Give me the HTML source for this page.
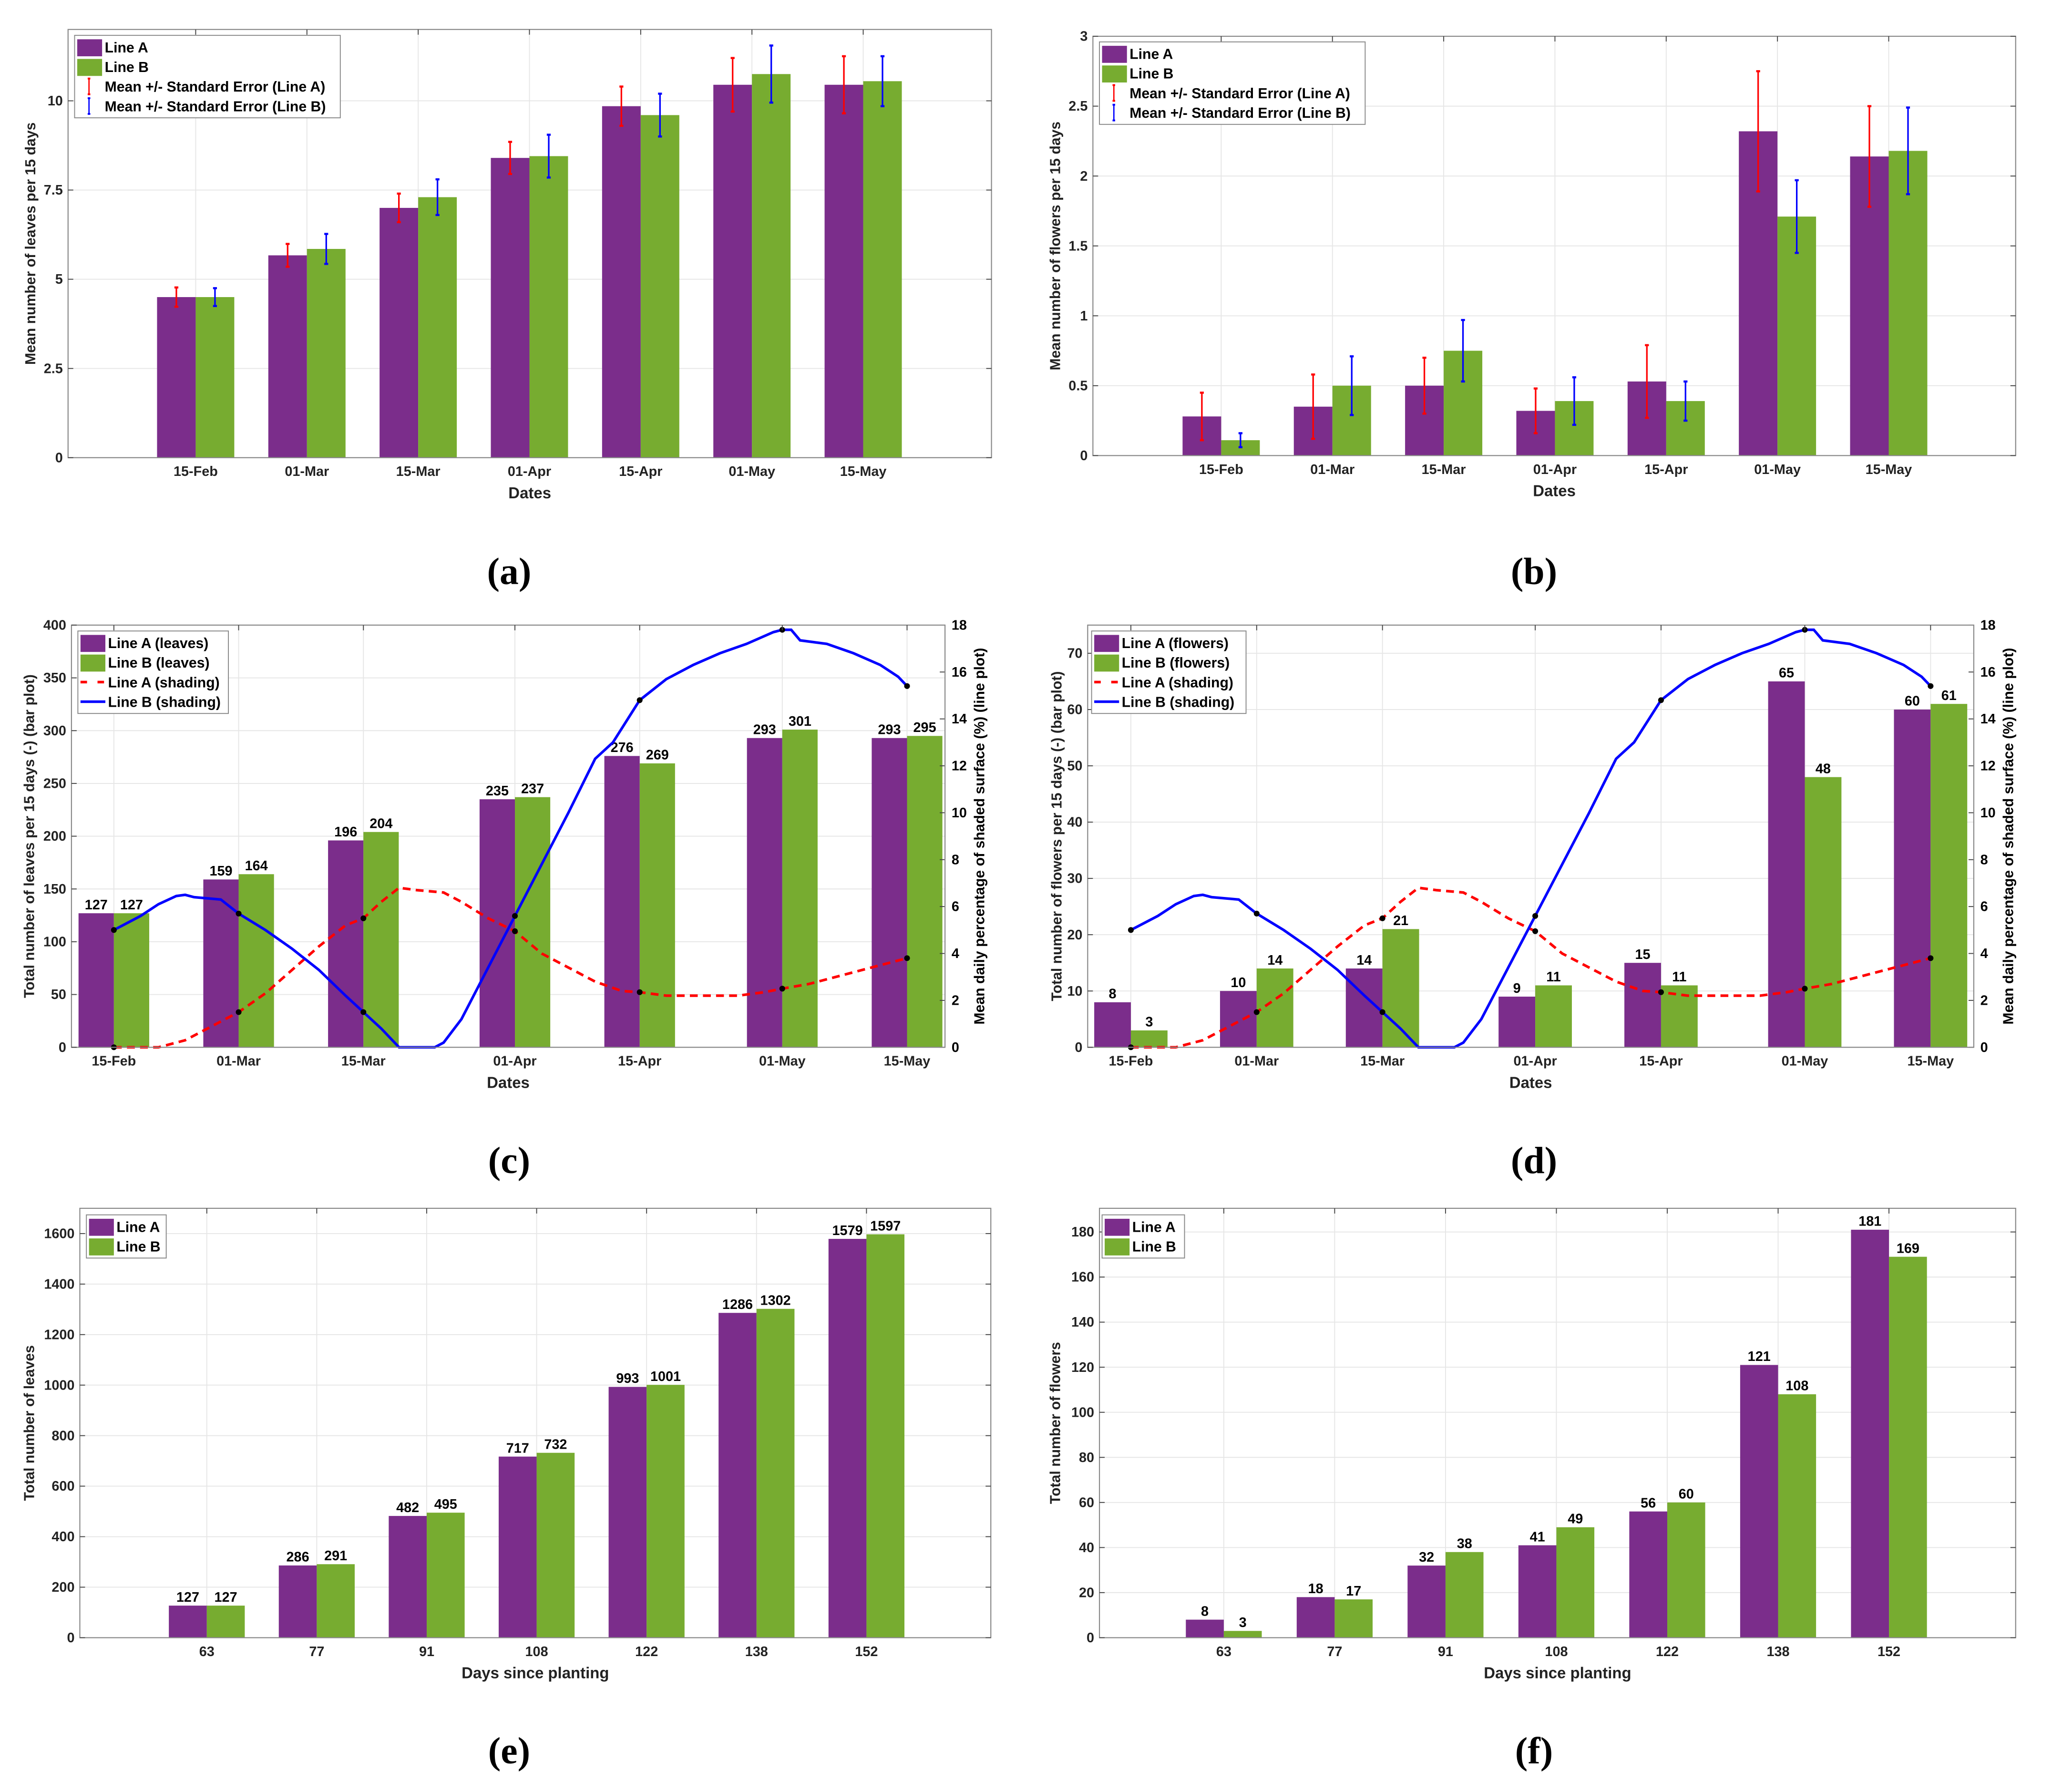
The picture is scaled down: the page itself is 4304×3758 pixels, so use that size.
<!DOCTYPE html>
<html><head><meta charset="utf-8"><style>
html,body{margin:0;padding:0;background:#fff;}
svg{display:block;}
text{font-family:"Liberation Sans",sans-serif;}
</style></head><body>
<svg id="fig" xmlns="http://www.w3.org/2000/svg" width="4304" height="3758" viewBox="0 0 1556 1358.6"><g id="root" transform="scale(0.9925)"></g></svg>
<script>
// ---------- data ----------
const dateCats = ["15-Feb","01-Mar","15-Mar","01-Apr","15-Apr","01-May","15-May"];
const dayCats = ["63","77","91","108","122","138","152"];
const dateDays = [0,14,28,45,59,75,89];
// (a)
const meanLeavesA = [4.5,5.67,7.0,8.4,9.85,10.45,10.45];
const meanLeavesB = [4.5,5.85,7.3,8.45,9.6,10.75,10.55];
const seLeavesA = [0.27,0.32,0.4,0.45,0.55,0.75,0.8];
const seLeavesB = [0.25,0.42,0.5,0.6,0.6,0.8,0.7];
const ticksA = ["0","2.5","5","7.5","10"];
// (b)
const meanFlowA = [0.28,0.35,0.5,0.32,0.53,2.32,2.14];
const meanFlowB = [0.11,0.5,0.75,0.39,0.39,1.71,2.18];
const seFlowA = [0.17,0.23,0.2,0.16,0.26,0.43,0.36];
const seFlowB = [0.05,0.21,0.22,0.17,0.14,0.26,0.31];
const ticksB = ["0","0.5","1","1.5","2","2.5","3"];
// (c)
const leaves15A = [127,159,196,235,276,293,293];
const leaves15B = [127,164,204,237,269,301,295];
// (d)
const flowers15A = [8,10,14,9,15,65,60];
const flowers15B = [3,14,21,11,11,48,61];
// shading lines (day, %)
const shadeBDays = [0,3,5,7,8,9,12,14,17,20,23,26,28,30,32,34,36,37,39,42,45,48,51,54,56,59,62,65,68,71,74,75,76,77,80,83,86,88,89];
const shadeBVals = [5.0,5.6,6.1,6.45,6.5,6.4,6.3,5.7,5.0,4.2,3.3,2.2,1.5,0.8,0.0,0,0,0.2,1.2,3.4,5.6,7.8,10.0,12.3,13.0,14.8,15.7,16.3,16.8,17.2,17.7,17.8,17.8,17.35,17.2,16.8,16.3,15.8,15.4];
const shadeADays = [0,5,8,11,14,17,20,23,26,28,30,32,34,37,39,42,45,48,51,54,57,59,62,66,70,73,75,78,82,86,89];
const shadeAVals = [0,0,0.3,0.9,1.5,2.3,3.3,4.3,5.2,5.5,6.2,6.8,6.7,6.6,6.2,5.5,4.95,4.0,3.4,2.8,2.4,2.35,2.2,2.2,2.2,2.35,2.5,2.7,3.1,3.5,3.8];
const shadeAMarks = [0,1.5,5.5,4.95,2.35,2.5,3.8];
const shadeBMarks = [5.0,5.7,1.5,5.6,14.8,17.8,15.4];
// (e)
const totLeavesA = [127,286,482,717,993,1286,1579];
const totLeavesB = [127,291,495,732,1001,1302,1597];
// (f)
const totFlowA = [8,18,32,41,56,121,181];
const totFlowB = [3,17,38,49,60,108,169];

const PURPLE="#7b2d8b", GREEN="#77ac30";
const svg=document.getElementById('root');
const NS="http://www.w3.org/2000/svg";
function mk(tag,attrs,parent){const e=document.createElementNS(NS,tag);for(const k in attrs)e.setAttribute(k,attrs[k]);(parent||svg).appendChild(e);return e;}
function txt(s,x,y,attrs,parent){const t=mk('text',Object.assign({x:x,y:y},attrs),parent);t.textContent=s;return t;}

function panel(name,P){
  const g=mk('g',{});
  
  
  const {L,R,T,B,ymax}=P;
  const yv=v=>B-(v/ymax)*(B-T);
  P.ticks.forEach(tv=>{const y=yv(tv);
    const gl=mk('line',{x1:L,x2:R,y1:y,y2:y,stroke:'#e6e6e6','stroke-width':0.7},g);
    
  });
  P.xs.forEach(x=>{const gl=mk('line',{x1:x,x2:x,y1:T,y2:B,stroke:'#e6e6e6','stroke-width':0.7},g);
    });
  const bw=P.bw;
  P.cats.forEach((c,i)=>{
    const x=P.xs[i];
    const ba=mk('rect',{x:x-bw,y:yv(P.a[i]),width:bw,height:B-yv(P.a[i]),fill:PURPLE},g);
    
    const bb=mk('rect',{x:x,y:yv(P.b[i]),width:bw,height:B-yv(P.b[i]),fill:GREEN},g);
    
    if(P.labels){
      const la=txt(String(P.a[i]),x-bw/2,yv(P.a[i])-3,{'font-size':10.5,'font-weight':'bold','text-anchor':'middle'},g);
      
      const lb=txt(String(P.b[i]),x+bw/2,yv(P.b[i])-3,{'font-size':10.5,'font-weight':'bold','text-anchor':'middle'},g);
      
    }
    if(P.ea){
      [[x-bw/2,P.a[i],P.ea[i],'#ff0000'],[x+bw/2,P.b[i],P.eb[i],'#0000ff']].forEach(([ex,m,e,col])=>{
        const eg=mk('g',{stroke:col,'stroke-width':1.2},g);
        
        mk('line',{x1:ex,x2:ex,y1:yv(m-e),y2:yv(m+e)},eg);
        mk('line',{x1:ex-1.5,x2:ex+1.5,y1:yv(m-e),y2:yv(m-e),'stroke-width':1.6},eg);
        mk('line',{x1:ex-1.5,x2:ex+1.5,y1:yv(m+e),y2:yv(m+e),'stroke-width':1.6},eg);
      });
    }
  });
  if(P.lines){
    const dx=d=>P.xs[0]+d*(P.xs[6]-P.xs[0])/89;
    const ry=v=>B-(v/18)*(B-T);
    const pa=shadeADays.map((d,i)=>dx(d)+','+ry(shadeAVals[i])).join(' ');
    const l1=mk('polyline',{points:pa,fill:'none',stroke:'#ff0000','stroke-width':2,'stroke-dasharray':'6,4'},g);
    
    const pb=shadeBDays.map((d,i)=>dx(d)+','+ry(shadeBVals[i])).join(' ');
    const l2=mk('polyline',{points:pb,fill:'none',stroke:'#0000ff','stroke-width':2},g);
    
    dateDays.forEach((d,i)=>{
      const m1=mk('circle',{cx:dx(d),cy:ry(shadeAMarks[i]),r:2.2,fill:'#000'},g);
      
      const m2=mk('circle',{cx:dx(d),cy:ry(shadeBMarks[i]),r:2.2,fill:'#000'},g);
      
    });
    for(let v=0;v<=18;v+=2){const y=ry(v);
      mk('line',{x1:R-4,x2:R,y1:y,y2:y,stroke:'#444','stroke-width':0.7},g);
      const t=txt(String(v),R+5,y+3.5,{'font-size':10.5,'font-weight':'bold'},g);
      }
    const rt=txt('Mean daily percentage of shaded surface (%) (line plot)',0,0,{'font-size':11,'font-weight':'bold','text-anchor':'middle',transform:`translate(${R+30},${(T+B)/2}) rotate(-90)`},g);
    
  }
  const bx=mk('rect',{x:L,y:T,width:R-L,height:B-T,fill:'none',stroke:'#888','stroke-width':0.8},g);
  
  P.ticks.forEach((tv,i)=>{const y=yv(tv);
    mk('line',{x1:L,x2:L+4,y1:y,y2:y,stroke:'#444','stroke-width':0.7},g);
    if(!P.lines) mk('line',{x1:R-4,x2:R,y1:y,y2:y,stroke:'#444','stroke-width':0.7},g);
    const t=txt(P.tickLabels[i],L-4,y+3.5,{'font-size':10.5,'font-weight':'bold','text-anchor':'end',fill:'#222'},g);
    });
  P.xs.forEach((x,i)=>{
    mk('line',{x1:x,x2:x,y1:T,y2:T+4,stroke:'#444','stroke-width':0.7},g);
    const t=txt(P.cats[i],x,B+14,{'font-size':10.5,'font-weight':'bold','text-anchor':'middle',fill:'#222'},g);
    });
  const xt=txt(P.xtitle,(L+R)/2,B+31,{'font-size':12,'font-weight':'bold','text-anchor':'middle',fill:'#222'},g);
  
  const yt=txt(P.ytitle,0,0,{'font-size':11,'font-weight':'bold','text-anchor':'middle',fill:'#222',transform:`translate(${P.ytx},${(T+B)/2}) rotate(-90)`},g);
  
  const lg=mk('g',{},g);
  
  const [lx,ly,lw]=P.leg;
  const lh=P.legItems.length*15+3;
  mk('rect',{x:lx,y:ly,width:lw,height:lh,fill:'#fff',stroke:'#888','stroke-width':0.7},lg);
  P.legItems.forEach((it,i)=>{
    const cy=ly+9+i*15;
    const e=mk('g',{},lg);
    
    if(it[1]==='barA') mk('rect',{x:lx+2,y:cy-6,width:19,height:13,fill:PURPLE},e);
    if(it[1]==='barB') mk('rect',{x:lx+2,y:cy-6,width:19,height:13,fill:GREEN},e);
    if(it[1]==='errA'||it[1]==='errB'){const c=it[1]==='errA'?'#f00':'#00f';
      mk('line',{x1:lx+11,x2:lx+11,y1:cy-6,y2:cy+6,stroke:c,'stroke-width':1},e);
      mk('line',{x1:lx+10,x2:lx+12,y1:cy-6,y2:cy-6,stroke:c,'stroke-width':1.4},e);
      mk('line',{x1:lx+10,x2:lx+12,y1:cy+6,y2:cy+6,stroke:c,'stroke-width':1.4},e);}
    if(it[1]==='dash') mk('line',{x1:lx+2,x2:lx+21,y1:cy,y2:cy,stroke:'#f00','stroke-width':2,'stroke-dasharray':'5,8'},e);
    if(it[1]==='solid') mk('line',{x1:lx+2,x2:lx+21,y1:cy,y2:cy,stroke:'#00f','stroke-width':2},e);
    txt(it[0],lx+23,cy+4,{'font-size':11,'font-weight':'bold'},e);
  });
}
const xsA=[0,1,2,3,4,5,6].map(i=>149.5+i*85);
const xsB=[0,1,2,3,4,5,6].map(i=>933+i*85);
const legErr=[['Line A','barA'],['Line B','barB'],['Mean +/- Standard Error (Line A)','errA'],['Mean +/- Standard Error (Line B)','errB']];
panel('panel-a-mean-leaves',{L:52,R:757.5,T:22.5,B:349.6,ymax:12,ticks:[0,2.5,5,7.5,10],tickLabels:ticksA,xs:xsA,cats:dateCats,a:meanLeavesA,b:meanLeavesB,ea:seLeavesA,eb:seLeavesB,bw:29.5,xtitle:'Dates',ytitle:'Mean number of leaves per 15 days',ytx:27,leg:[57,27,203],legItems:legErr});
panel('panel-b-mean-flowers',{L:835,R:1540,T:27.7,B:348,ymax:3,ticks:[0,0.5,1,1.5,2,2.5,3],tickLabels:ticksB,xs:xsB,cats:dateCats,a:meanFlowA,b:meanFlowB,ea:seFlowA,eb:seFlowB,bw:29.5,xtitle:'Dates',ytitle:'Mean number of flowers per 15 days',ytx:810,leg:[840,32,203],legItems:legErr});
const xsC=dateDays.map(d=>87+d*(693-87)/89);
panel('panel-c-leaves-shading',{L:54.6,R:722,T:477.5,B:800,ymax:400,ticks:[0,50,100,150,200,250,300,350,400],tickLabels:["0","50","100","150","200","250","300","350","400"],xs:xsC,cats:dateCats,a:leaves15A,b:leaves15B,bw:27,labels:true,lines:true,xtitle:'Dates',ytitle:'Total number of leaves per 15 days (-) (bar plot)',ytx:26,leg:[59.5,482,115],legItems:[['Line A (leaves)','barA'],['Line B (leaves)','barB'],['Line A (shading)','dash'],['Line B (shading)','solid']]});
const xsD=dateDays.map(d=>864+d*(1475-864)/89);
panel('panel-d-flowers-shading',{L:831,R:1508,T:477.5,B:800,ymax:75,ticks:[0,10,20,30,40,50,60,70],tickLabels:["0","10","20","30","40","50","60","70"],xs:xsD,cats:dateCats,a:flowers15A,b:flowers15B,bw:28,labels:true,lines:true,xtitle:'Dates',ytitle:'Total number of flowers per 15 days (-) (bar plot)',ytx:811,leg:[834,482,118],legItems:[['Line A (flowers)','barA'],['Line B (flowers)','barB'],['Line A (shading)','dash'],['Line B (shading)','solid']]});
const xsE=[0,1,2,3,4,5,6].map(i=>158+i*84);
panel('panel-e-total-leaves',{L:61,R:757,T:923,B:1251,ymax:1700,ticks:[0,200,400,600,800,1000,1200,1400,1600],tickLabels:["0","200","400","600","800","1000","1200","1400","1600"],xs:xsE,cats:dayCats,a:totLeavesA,b:totLeavesB,bw:29,labels:true,xtitle:'Days since planting',ytitle:'Total number of leaves',ytx:26,leg:[66,928,61],legItems:[['Line A','barA'],['Line B','barB']]});
const xsF=[0,1,2,3,4,5,6].map(i=>935+i*84.7);
panel('panel-f-total-flowers',{L:840,R:1540,T:923,B:1251,ymax:190.5,ticks:[0,20,40,60,80,100,120,140,160,180],tickLabels:["0","20","40","60","80","100","120","140","160","180"],xs:xsF,cats:dayCats,a:totFlowA,b:totFlowB,bw:29,labels:true,xtitle:'Days since planting',ytitle:'Total number of flowers',ytx:810,leg:[842,928,63],legItems:[['Line A','barA'],['Line B','barB']]});
[['(a)',389,446],['(b)',1172,446],['(c)',389,896],['(d)',1172,896],['(e)',389,1347],['(f)',1172,1347]].forEach(([s,x,y])=>{
  const t=txt(s,x,y,{'font-size':29,'font-weight':'bold','text-anchor':'middle',style:'font-family:"Liberation Serif",serif'});
  
  
});
</script>
</body></html>
